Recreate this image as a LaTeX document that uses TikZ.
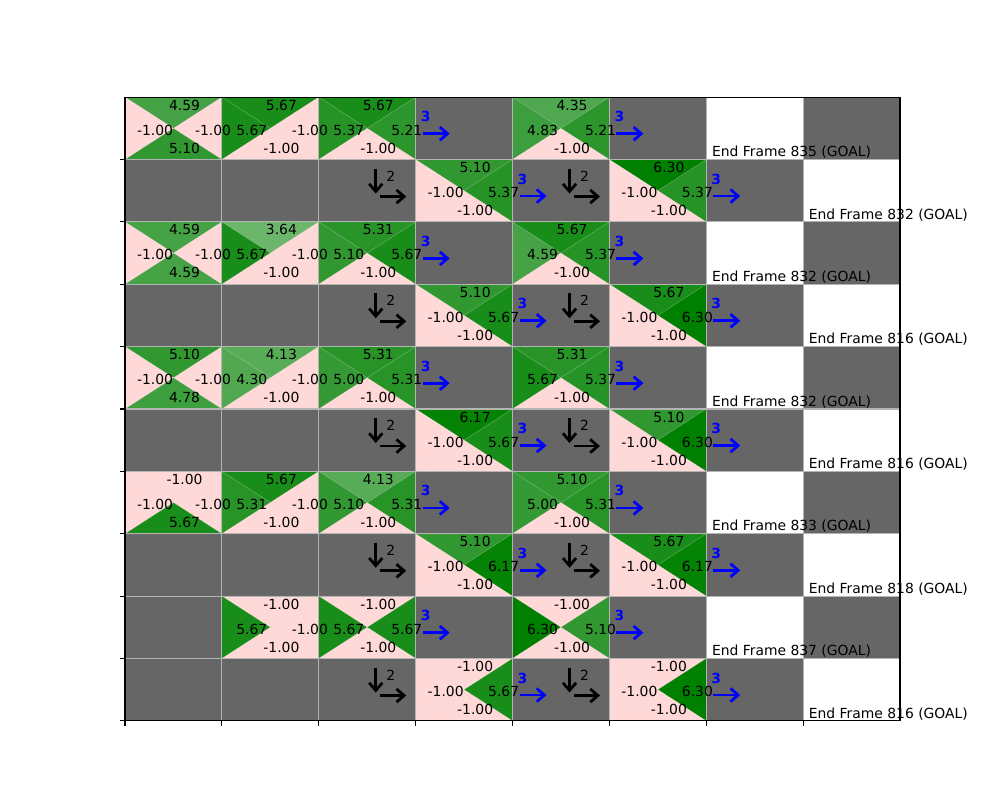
\documentclass[tikz,border=0pt]{standalone}
\usepackage{fontspec}
\setmainfont{DejaVu Sans}
\usetikzlibrary{arrows.meta}

\definecolor{qgreen}{RGB}{0,128,0}
\definecolor{qpink}{RGB}{255,216,216}
\definecolor{wallgray}{RGB}{102,102,102}
\definecolor{gridgray}{RGB}{180,180,180}

% fill colour of one action triangle
\newcommand\setqcol[1]{%
	\ifdim #1pt<0pt \def\qcol{qpink}%
	\else \pgfmathsetmacro\qpct{#1*100/6.3}\edef\qcol{qgreen!\qpct!white}\fi}

% row/col/top/left/right/bottom
\newcommand\qvalues{0/0/4.59/-1.00/-1.00/5.10,
	0/1/5.67/5.67/-1.00/-1.00,
	0/2/5.67/5.37/5.21/-1.00,
	0/4/4.35/4.83/5.21/-1.00,
	1/3/5.10/-1.00/5.37/-1.00,
	1/5/6.30/-1.00/5.37/-1.00,
	2/0/4.59/-1.00/-1.00/4.59,
	2/1/3.64/5.67/-1.00/-1.00,
	2/2/5.31/5.10/5.67/-1.00,
	2/4/5.67/4.59/5.37/-1.00,
	3/3/5.10/-1.00/5.67/-1.00,
	3/5/5.67/-1.00/6.30/-1.00,
	4/0/5.10/-1.00/-1.00/4.78,
	4/1/4.13/4.30/-1.00/-1.00,
	4/2/5.31/5.00/5.31/-1.00,
	4/4/5.31/5.67/5.37/-1.00,
	5/3/6.17/-1.00/5.67/-1.00,
	5/5/5.10/-1.00/6.30/-1.00,
	6/0/-1.00/-1.00/-1.00/5.67,
	6/1/5.67/5.31/-1.00/-1.00,
	6/2/4.13/5.10/5.31/-1.00,
	6/4/5.10/5.00/5.31/-1.00,
	7/3/5.10/-1.00/6.17/-1.00,
	7/5/5.67/-1.00/6.17/-1.00,
	8/1/-1.00/5.67/-1.00/-1.00,
	8/2/-1.00/5.67/5.67/-1.00,
	8/4/-1.00/6.30/5.10/-1.00,
	9/3/-1.00/-1.00/5.67/-1.00,
	9/5/-1.00/-1.00/6.30/-1.00}

% row/col/frame of the goal cells
\newcommand\goals{0/6/835, 1/7/832, 2/6/832, 3/7/816, 4/6/832,
	5/7/816, 6/6/833, 7/7/818, 8/6/837, 9/7/816}

\begin{document}
\begin{tikzpicture}[x=0.72pt, y=-0.72pt,
	qval/.style={inner sep=0pt, font=\normalsize},
	tri/.style={draw=white, draw opacity=0.25, line width=0.3pt},
	gridline/.style={gridgray, line width=0.8pt},
	spine/.style={black, line width=0.8pt},
	hint/.style={blue, line width=2pt, -{Straight Barb[length=5.5pt, width=9.5pt]}},
	turn/.style={black, line width=2pt, -{Straight Barb[length=5.5pt, width=9.5pt]}}]
	\useasboundingbox (0,0) rectangle (1000,810);
	% walls everywhere, goals cut out
	\fill[wallgray] (125,97.2) rectangle (900,720.9);
	\foreach \r/\c/\f in \goals {
		\fill[white] (125+\c*96.875,97.2+\r*62.37) rectangle ++(96.875,62.37);
	}
	% four action triangles per state
	\foreach \r/\c/\qt/\ql/\qr/\qb in \qvalues {
		\pgfmathsetmacro\xa{125+\c*96.875}
		\pgfmathsetmacro\ya{97.2+\r*62.37}
		\pgfmathsetmacro\xb{\xa+96.875}
		\pgfmathsetmacro\yb{\ya+62.37}
		\pgfmathsetmacro\xm{\xa+48.4375}
		\pgfmathsetmacro\ym{\ya+31.185}
		\setqcol{\qt}\filldraw[fill=\qcol, tri] (\xa,\ya) -- (\xb,\ya) -- (\xm,\ym) -- cycle;
		\setqcol{\ql}\filldraw[fill=\qcol, tri] (\xa,\ya) -- (\xa,\yb) -- (\xm,\ym) -- cycle;
		\setqcol{\qr}\filldraw[fill=\qcol, tri] (\xb,\ya) -- (\xb,\yb) -- (\xm,\ym) -- cycle;
		\setqcol{\qb}\filldraw[fill=\qcol, tri] (\xa,\yb) -- (\xb,\yb) -- (\xm,\ym) -- cycle;
	}
	% grid, frame and ticks
	\foreach \c in {1,...,7}
		\draw[gridline] (125+\c*96.875,97.2) -- (125+\c*96.875,720.9);
	\foreach \r in {1,...,9}
		\draw[gridline] (125,97.2+\r*62.37) -- (900,97.2+\r*62.37);
	\draw[spine] (125,97.2) rectangle (900,720.9);
	\foreach \c in {0,...,7}
		\draw[spine] (125+\c*96.875,720.9) -- ++(0,4.86);
	\foreach \r in {1,...,10}
		\draw[spine] (125,97.2+\r*62.37) -- ++(-4.86,0);
	% values
	\foreach \r/\c/\qt/\ql/\qr/\qb in \qvalues {
		\pgfmathsetmacro\xa{125+\c*96.875}
		\pgfmathsetmacro\ya{97.2+\r*62.37}
		\node[qval] (qt-\r-\c) at (\xa+59.5,\ya+8) {\qt};
		\node[qval] (ql-\r-\c) at (\xa+30,\ya+33) {\ql};
		\node[qval] (qr-\r-\c) at (\xa+88,\ya+33) {\qr};
		\node[qval] (qb-\r-\c) at (\xa+59.5,\ya+51) {\qb};
	}
	% best action 3 next to each state
	\foreach \r in {0,...,9}
		\foreach \k in {3,5} {
			\pgfmathtruncatemacro\c{\k+mod(\r,2)}
			\pgfmathsetmacro\xa{125+\c*96.875}
			\pgfmathsetmacro\ya{97.2+\r*62.37}
			\node[qval, blue, font=\bfseries] (act-\r-\c) at (\xa+10,\ya+19.5) {3};
			\coordinate (hs-\r-\c) at (\xa+7,\ya+36.5);
			\coordinate (he-\r-\c) at (\xa+34,\ya+36.5);
			\draw[hint] (hs-\r-\c) -- (he-\r-\c);
		}
	% action 2 marks
	\foreach \r in {1,3,...,9}
		\foreach \c in {2,4} {
			\pgfmathsetmacro\xa{125+\c*96.875}
			\pgfmathsetmacro\ya{97.2+\r*62.37}
			\node[qval] (turn-\r-\c) at (\xa+72,\ya+16.4) {2};
			\coordinate (ds-\r-\c) at (\xa+57,\ya+9);
			\coordinate (de-\r-\c) at (\xa+57,\ya+34);
			\coordinate (rs-\r-\c) at (\xa+61.5,\ya+37);
			\coordinate (re-\r-\c) at (\xa+87.5,\ya+37);
			\draw[turn] (ds-\r-\c) -- (de-\r-\c);
			\draw[turn] (rs-\r-\c) -- (re-\r-\c);
		}
	% goal labels
	\foreach \r/\c/\f in \goals
		\node[qval, anchor=base west] (goal-\r) at (125+\c*96.875+5.5,97.2+\r*62.37+59.5) {End Frame \f{} (GOAL)};
\end{tikzpicture}
\end{document}
